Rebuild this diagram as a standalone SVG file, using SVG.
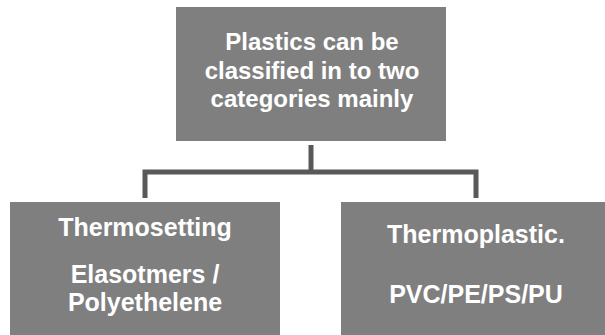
<svg xmlns="http://www.w3.org/2000/svg" width="605" height="335" viewBox="0 0 605 335">
  <style>
    .box { fill: #7f7f7f; }
    .label { font-family: "Liberation Sans", Arial, sans-serif; font-weight: bold; font-size: 24px; fill: #ffffff; text-anchor: middle; }
    .big { font-size: 25px; }
    .link { fill: none; stroke: #595959; stroke-width: 5; stroke-linejoin: miter; }
  </style>
  <rect width="605" height="335" fill="#ffffff"/>

  <!-- connectors: root down to the bar, bar out to both branches -->
  <g id="connectors">
    <path class="link" d="M311,145 V172"/>
    <path class="link" d="M145,198 V172 H476 V198"/>
  </g>

  <g id="root">
    <rect class="box" x="176" y="7" width="270" height="134"/>
    <text class="label" x="312" y="50">Plastics can be</text>
    <text class="label" x="312" y="79">classified in to two</text>
    <text class="label" x="312" y="107">categories mainly</text>
  </g>

  <g id="thermosetting">
    <rect class="box" x="10" y="202" width="270" height="140"/>
    <text class="label big" x="145" y="236">Thermosetting</text>
    <text class="label big" x="145" y="283">Elasotmers /</text>
    <text class="label big" x="145" y="311">Polyethelene</text>
  </g>

  <g id="thermoplastic">
    <rect class="box" x="341" y="202" width="270" height="140"/>
    <text class="label big" x="476" y="243">Thermoplastic.</text>
    <text class="label big" x="476" y="303">PVC/PE/PS/PU</text>
  </g>
</svg>
